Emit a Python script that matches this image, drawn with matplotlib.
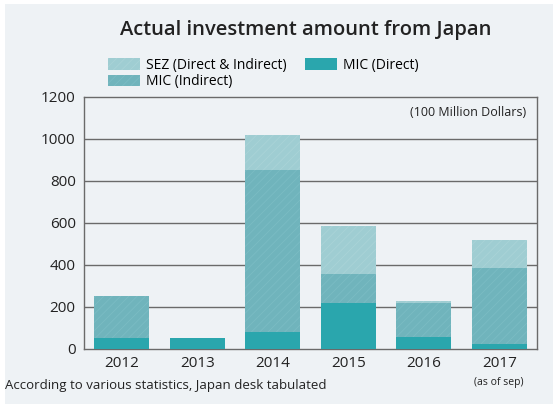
import matplotlib
matplotlib.use("Agg")
import matplotlib.pyplot as plt
from matplotlib.patches import Rectangle, Patch
import numpy as np

years = ["2012", "2013", "2014", "2015", "2016", "2017"]
mic_direct = [54, 54, 82, 218, 58, 24]
mic_indirect = [196, 0, 768, 140, 162, 360]
sez = [0, 0, 170, 230, 10, 136]

c_sez = "#9fcdd2"
c_ind = "#70b4bc"
c_dir = "#2aa6ad"
bg = "#eef2f5"

plt.rcParams['font.family'] = ['Open Sans', 'DejaVu Sans']
plt.rcParams['hatch.linewidth'] = 0.6

fig = plt.figure(figsize=(5.58, 4.04), dpi=100, facecolor="white")
fig.patches.append(Rectangle((5/558, 0), 1 - 10/558, 1 - 4/404, transform=fig.transFigure,
                             facecolor=bg, edgecolor="none", zorder=-10))

ax = fig.add_axes([84/558, 55/404, 453/558, 252/404])
ax.set_facecolor(bg)
x = np.arange(len(years))
w = 0.73
d = np.array(mic_direct)
i = np.array(mic_indirect)
s = np.array(sez)
ax.bar(x, d, w, color=c_dir, zorder=3, linewidth=0)
ax.bar(x, i, w, bottom=d, color=c_ind, zorder=3, linewidth=0, hatch="////", edgecolor="#7bbcc3")
ax.bar(x, s, w, bottom=d + i, color=c_sez, zorder=3, linewidth=0, hatch="////", edgecolor="#a9d3d7")

ax.set_xlim(-0.5, 5.5)
ax.set_ylim(0, 1200)
ax.set_yticks([0, 200, 400, 600, 800, 1000, 1200])
ax.set_xticks(x)
ax.set_xticklabels(years)
ax.tick_params(length=0, labelsize=11, colors="#222222")
ax.tick_params(axis='y', pad=6)
ax.tick_params(axis='x', pad=5)
for yv in [200, 400, 600, 800, 1000]:
    ax.axhline(yv, color="#6a6a6a", lw=1.0, zorder=1)
for sp in ax.spines.values():
    sp.set_color("#6a6a6a")
    sp.set_linewidth(1.0)

ax.text(0.975, 0.965, "(100 Million Dollars)", transform=ax.transAxes, ha="right", va="top",
        fontsize=9, color="#222222")

fig.text(306/558, 1 - 30/404, "Actual investment amount from Japan", ha="center", va="center",
         fontsize=14.5, fontweight="semibold", color="#222222")

handles = [Patch(facecolor=c_sez, hatch="////", edgecolor="#a9d3d7", linewidth=0),
           Patch(facecolor=c_ind, hatch="////", edgecolor="#7bbcc3", linewidth=0),
           Patch(facecolor=c_dir, linewidth=0)]
labels = ["SEZ (Direct & Indirect)", "MIC (Indirect)", "MIC (Direct)"]
leg = fig.legend(handles, labels, ncol=2, loc="upper left", bbox_to_anchor=(98/558, 1 - 48/404),
                 frameon=False, fontsize=10, handlelength=2.3, handleheight=0.9,
                 handletextpad=0.45, columnspacing=1.3, labelspacing=0.1, borderpad=0.2)

fig.text(5/558, 1 - 385/404, "According to various statistics, Japan desk tabulated", ha="left",
         va="center", fontsize=9.5, color="#222222")
fig.text(499/558, 1 - 382/404, "(as of sep)", ha="center", va="center", fontsize=7.5, color="#222222")

fig.savefig("out.png", dpi=100, facecolor=fig.get_facecolor())
